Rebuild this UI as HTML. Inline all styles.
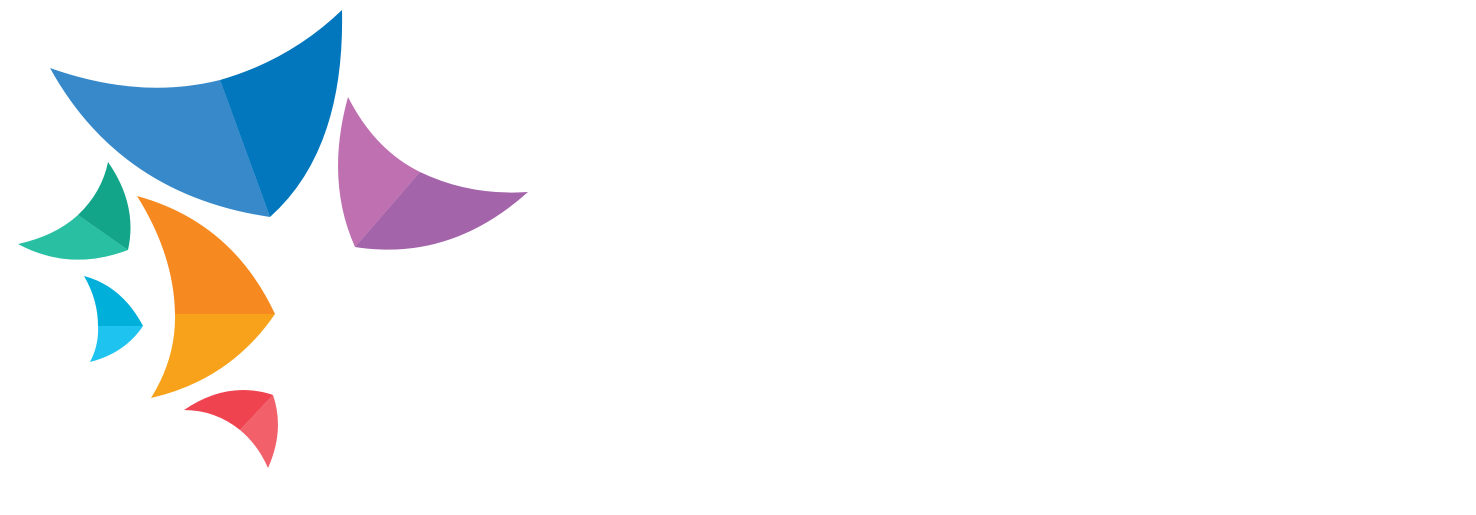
<!DOCTYPE html>
<html><head><meta charset="utf-8"><style>
html,body{margin:0;padding:0;background:#fff;width:1476px;height:515px;overflow:hidden}
svg{display:block}
</style></head><body>
<svg width="1476" height="515" viewBox="0 0 1476 515">
<g>
<path d="M50,68 Q140,100 220,80 L270,217 Q120,195 50,68 Z" fill="#3789C9"/>
<path d="M220,80 Q290,60 342,10 Q345,150 270,217 Z" fill="#0277BD"/>
</g>
<g>
<path d="M348,97 Q375,150 420,172 L355,247 Q325,180 348,97 Z" fill="#BF70B0"/>
<path d="M420,172 Q470,196 528,192 Q450,262 355,247 Z" fill="#A364AA"/>
</g>
<g>
<path d="M18,244 Q55,236 78,215 L128,250 Q70,272 18,244 Z" fill="#29BFA3"/>
<path d="M78,215 Q102,192 108,162 Q138,205 128,250 Z" fill="#13A589"/>
</g>
<g>
<path d="M137,196 Q232,222 275,314 L175,314 Q174,255 137,196 Z" fill="#F6891F"/>
<path d="M175,314 L275,314 Q230,380 151,398 Q176,358 175,314 Z" fill="#F8A21C"/>
</g>
<g>
<path d="M84,276 Q122,286 143,326 L98,326 Q98,300 84,276 Z" fill="#00B0DB"/>
<path d="M98,326 L143,326 Q125,353 90,362 Q99,345 98,326 Z" fill="#1EC3F0"/>
</g>
<g>
<path d="M184,410 Q228,380 273,395 L240,430 Q215,410 184,410 Z" fill="#EF4450"/>
<path d="M273,395 Q285,430 268,468 Q258,445 240,430 Z" fill="#F2606A"/>
</g>
</svg>
</body></html>
